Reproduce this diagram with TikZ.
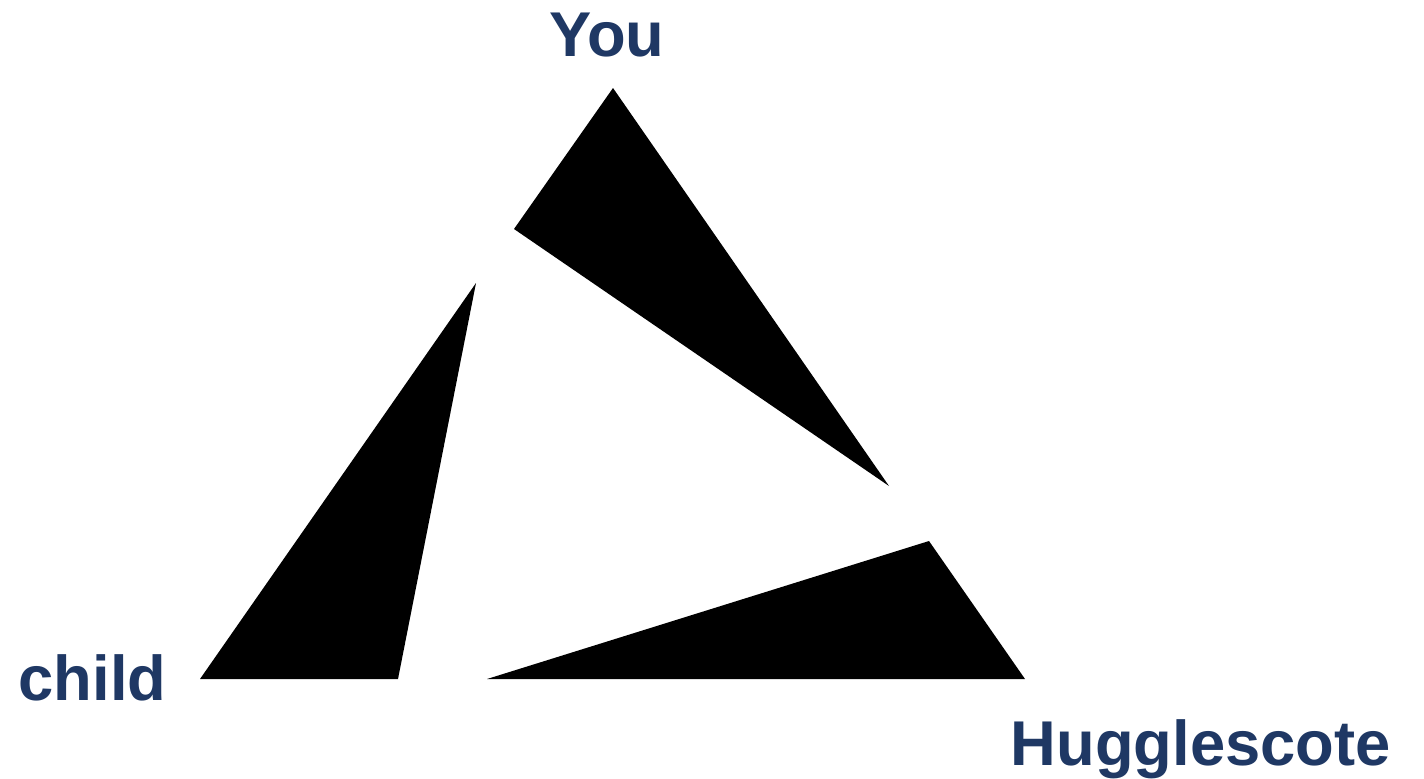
\documentclass[tikz,border=0pt]{standalone}
\usepackage{fontspec}
\setmainfont{Liberation Sans}
\usetikzlibrary{positioning}
\definecolor{labelblue}{HTML}{1F3864}

\begin{document}
\begin{tikzpicture}[
    x=0.01cm, y=-0.01cm,
    piece/.style={fill=black, draw=none},
    label/.style={font=\fontsize{18}{20}\selectfont\bfseries, text=labelblue, inner sep=0pt}
  ]
    \useasboundingbox (0,0) rectangle (1424,778);
    % corner labels
    \node[label] (you) at (607,35) {You};
    \node[label, anchor=base west] (child) at (18,700) {child};
    \node[label, anchor=base west] (hug) at (1010,765) {Hugglescote};
    % the three pieces
    \coordinate (t1a) at (613,88);
    \coordinate (t1b) at (514,229);
    \coordinate (t1c) at (889,486);
    \coordinate (t2a) at (476,283);
    \coordinate (t2b) at (200,679);
    \coordinate (t2c) at (398,679);
    \coordinate (t3a) at (929,541);
    \coordinate (t3b) at (487,679);
    \coordinate (t3c) at (1025,679);
    \fill[piece] (t1a) -- (t1b) -- (t1c) -- cycle;
    \fill[piece] (t2a) -- (t2b) -- (t2c) -- cycle;
    \fill[piece] (t3a) -- (t3b) -- (t3c) -- cycle;
  \end{tikzpicture}
\end{document}
